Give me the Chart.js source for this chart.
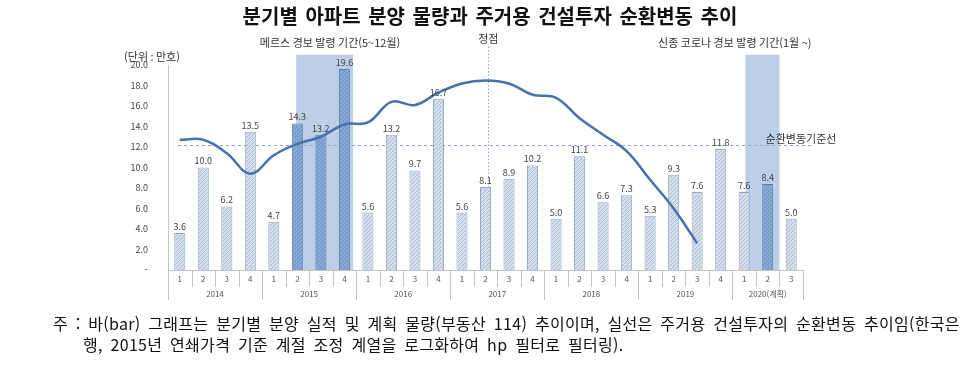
<!DOCTYPE html>
<html lang="ko">
<head>
<meta charset="utf-8">
<script src="https://cdn.jsdelivr.net/npm/chart.js@4.4.1/dist/chart.umd.min.js"></script>
<style>
  html, body { margin: 0; padding: 0; background: #fff; }
  #wrap { position: relative; width: 960px; height: 369px; overflow: hidden; }
  #c { position: absolute; left: 0; top: 0; }
  .txt { position: absolute; white-space: nowrap; font-family: "Noto Sans CJK KR", "Noto Sans", sans-serif; color: #111; }
  #title { left: 0; width: 980px; top: 1px; text-align: center; font-size: 20px; font-weight: bold; word-spacing: 2px; }
  .note { font-size: 16px; word-spacing: 3px; letter-spacing: 0.3px; }
</style>
</head>
<body>
<div id="wrap">
  <canvas id="c" width="960" height="369"></canvas>
  <div id="title" class="txt">분기별 아파트 분양 물량과 주거용 건설투자 순환변동 추이</div>
  <div class="txt note" style="left:53px; top:311px;">주 : 바(bar) 그래프는 분기별 분양 실적 및 계획 물량(부동산 114) 추이이며, 실선은 주거용 건설투자의 순환변동 추이임(한국은</div>
  <div class="txt note" style="left:83px; top:332px;">행, 2015년 연쇄가격 기준 계절 조정 계열을 로그화하여 hp 필터로 필터링).</div>
</div>
<script>
/* ── Data ─────────────────────────────────────────────── */
const years    = ['2014', '2015', '2016', '2017', '2018', '2019', '2020(계획)'];
const quarters = ['1', '2', '3', '4', '1', '2', '3', '4', '1', '2', '3', '4', '1', '2', '3', '4',
                  '1', '2', '3', '4', '1', '2', '3', '4', '1', '2', '3'];
const yearSpan = [4, 4, 4, 4, 4, 4, 3];

/* 분양 물량 (만호) */
const supply = [3.6, 10.0, 6.2, 13.5, 4.7, 14.3, 13.2, 19.6, 5.6, 13.2, 9.7, 16.7,
                5.6, 8.1, 8.9, 10.2, 5.0, 11.1, 6.6, 7.3, 5.3, 9.3, 7.6, 11.8,
                7.6, 8.4, 5.0];

/* 주거용 건설투자 순환변동 (same scale) */
const cycle = [12.7, 12.7, 11.4, 9.4, 11.2, 12.3, 13.0, 14.2, 14.4, 16.4, 16.1, 17.3,
               18.2, 18.5, 18.2, 17.1, 16.8, 14.8, 13.2, 11.6, 8.8, 6.0, 2.6, null,
               null, null, null];

const baseLine   = 12.2;     // 순환변동기준선
const peakIndex  = 13;       // 정점 (2017 Q2)
/* alert periods, in category units */
const alerts = [
  { label: '메르스 경보 발령 기간(5~12월)', from: 4.95, to: 7.37, textAt: 6.39 },
  { label: '신종 코로나 경보 발령 기간(1월 ~)', from: 24.05, to: 25.5, textAt: 23.6 },
];
const yTicks = { min: 0, max: 20, step: 2 };

/* ── Styles ───────────────────────────────────────────── */
const FONT = '"Noto Sans CJK KR", "Noto Sans", sans-serif';
const canvas = document.getElementById('c');
const ctx0 = canvas.getContext('2d');

function hatch(base, stroke) {
  const c = document.createElement('canvas');
  c.width = 4; c.height = 4;
  const g = c.getContext('2d');
  g.fillStyle = base; g.fillRect(0, 0, 4, 4);
  g.strokeStyle = stroke; g.lineWidth = 1;
  g.beginPath();
  g.moveTo(-1, 5); g.lineTo(5, -1);
  g.moveTo(-1, 1); g.lineTo(1, -1);
  g.moveTo(3, 5); g.lineTo(5, 3);
  g.stroke();
  return ctx0.createPattern(c, 'repeat');
}

const lightFill  = hatch('#d6dfe9', '#a9bcd1');
const darkFill   = hatch('#88a9d3', '#6a8fc0');
const inAlert = i => alerts.some(a => i >= a.from && i <= a.to);

/* ── Plugin: shades, reference lines, labels, 2-level x axis ── */
const decor = {
  id: 'decor',
  beforeDatasetsDraw(chart) {
    const { ctx, chartArea: a, scales: { x, y } } = chart;
    ctx.save();
    ctx.fillStyle = '#bccfe6';
    alerts.forEach(al => {
      const x0 = x.getPixelForValue(al.from), x1 = x.getPixelForValue(al.to);
      const top = y.getPixelForValue(21);
      ctx.fillRect(x0, top, x1 - x0, a.bottom - top);
    });
    // baseline reference (dashed)
    const yb = Math.round(y.getPixelForValue(baseLine)) + 0.5;
    ctx.strokeStyle = '#8ba7cc'; ctx.lineWidth = 1; ctx.setLineDash([3, 3]);
    ctx.beginPath(); ctx.moveTo(a.left + 10, yb); ctx.lineTo(a.right + 10, yb); ctx.stroke();
    // peak (dotted)
    const xp = Math.round(x.getPixelForValue(peakIndex + 0.12)) + 0.5;
    ctx.setLineDash([1.5, 2]);
    ctx.beginPath(); ctx.moveTo(xp, y.getPixelForValue(21.8)); ctx.lineTo(xp, a.bottom); ctx.stroke();
    ctx.restore();
  },
  afterDatasetsDraw(chart) {
    const { ctx, chartArea: a, scales: { x, y } } = chart;
    ctx.save();
    // value labels
    ctx.font = '9px ' + FONT; ctx.fillStyle = '#444';
    ctx.textAlign = 'center'; ctx.textBaseline = 'bottom';
    const meta = chart.getDatasetMeta(1);
    meta.data.forEach((bar, i) => ctx.fillText(supply[i].toFixed(1), bar.x, bar.y - 2));

    // annotations
    ctx.font = '11px ' + FONT; ctx.fillStyle = '#333'; ctx.textBaseline = 'middle';
    alerts.forEach(al => ctx.fillText(al.label, x.getPixelForValue(al.textAt), y.getPixelForValue(22.2)));
    ctx.fillText('정점', x.getPixelForValue(peakIndex + 0.12), y.getPixelForValue(22.6));
    ctx.fillText('순환변동기준선', a.right - 2, y.getPixelForValue(baseLine + 0.6));
    ctx.fillText('(단위 : 만호)', a.left - 16, y.getPixelForValue(20.8));

    // x axis: baseline + separators
    ctx.strokeStyle = '#c4c4c4'; ctx.lineWidth = 1;
    ctx.beginPath();
    ctx.moveTo(a.left, a.bottom + 0.5); ctx.lineTo(a.right, a.bottom + 0.5);
    const yearStarts = [];
    let acc = 0;
    yearSpan.forEach(n => { yearStarts.push(acc); acc += n; });
    for (let i = 0; i <= quarters.length; i++) {
      const px = Math.round(x.getPixelForValue(i - 0.5)) + 0.5;
      const long = yearStarts.includes(i) || i === quarters.length;
      ctx.moveTo(px, a.bottom); ctx.lineTo(px, a.bottom + (long ? 30 : 17));
    }
    ctx.stroke();

    ctx.font = '8px ' + FONT; ctx.fillStyle = '#555';
    quarters.forEach((q, i) => ctx.fillText(q, x.getPixelForValue(i), a.bottom + 9));
    years.forEach((yr, k) => {
      const c = (yearStarts[k] + yearStarts[k] + yearSpan[k] - 1) / 2;
      ctx.fillText(yr, x.getPixelForValue(c), a.bottom + 24);
    });
    ctx.restore();
  },
};

/* ── Chart ────────────────────────────────────────────── */
new Chart(canvas, {
  data: {
    labels: quarters.map((q, i) => i),
    datasets: [
      {
        type: 'line',
        data: cycle,
        borderColor: '#4672ad',
        borderWidth: 2.5,
        pointRadius: 0,
        tension: 0.4,
        order: 0,
      },
      {
        type: 'bar',
        data: supply,
        backgroundColor: supply.map((_, i) => inAlert(i) ? darkFill : lightFill),
        borderColor: supply.map((_, i) => inAlert(i) ? '#5a7fb0' : '#93abc6'),
        borderWidth: 1,
        categoryPercentage: 1,
        barPercentage: 0.47,
        order: 1,
      },
    ],
  },
  options: {
    responsive: false,
    animation: false,
    devicePixelRatio: 1,
    layout: { padding: { top: 65, right: 157, bottom: 99, left: 0 } },
    plugins: { legend: { display: false }, tooltip: { enabled: false } },
    scales: {
      x: { type: 'category', display: false, offset: true },
      y: {
        min: yTicks.min, max: yTicks.max,
        afterFit: s => { s.width = 168; },
        grid: { display: false },
        border: { display: true, color: '#c4c4c4' },
        ticks: {
          stepSize: yTicks.step,
          padding: 12,
          color: '#444',
          font: { size: 9, family: FONT },
          callback: v => v === 0 ? '-' : v.toFixed(1),
        },
      },
    },
  },
  plugins: [decor],
});
</script>
</body>
</html>
